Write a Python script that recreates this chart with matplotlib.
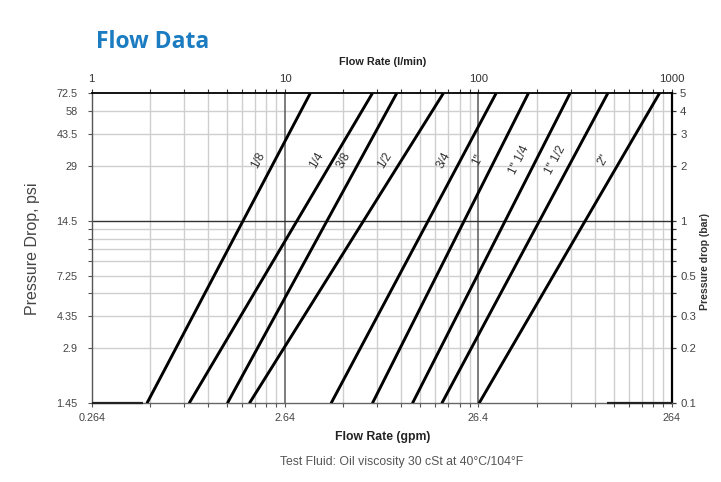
import matplotlib
matplotlib.use('Agg')
import matplotlib.pyplot as plt
from matplotlib import font_manager
from matplotlib.ticker import FixedLocator, FixedFormatter, NullFormatter
import numpy as np

# ---------------- data ----------------
sizes = ['1/8', '1/4', '3/8', '1/2', '3/4', '1"', '1" 1/4', '1" 1/2', '2"']
flow_at_min_dp = [1.93, 3.19, 5.03, 6.54, 17.3, 28.3, 45.6, 64.7, 100.8]   # l/min at 0.1 bar
flow_at_max_dp = [13.5, 28.3, 37.8, 65.9, 123.5, 181.4, 298, 467, 864]     # l/min at 5 bar
dp_range_bar = [0.1, 5]

lmin_ticks = [1, 10, 100, 1000]
lmin_labels = ['1', '10', '100', '1000']
gpm_labels = ['0.264', '2.64', '26.4', '264']
lmin_grid = [2, 3, 4, 5, 6, 7, 8, 9, 20, 30, 40, 50, 60, 70, 80, 90,
             200, 300, 400, 500, 600, 700, 800, 900]
lmin_dark_grid = [10, 100]

bar_ticks = [0.1, 0.2, 0.3, 0.5, 1, 2, 3, 4, 5]
bar_labels = ['0.1', '0.2', '0.3', '0.5', '1', '2', '3', '4', '5']
psi_labels = ['1.45', '2.9', '4.35', '7.25', '14.5', '29', '43.5', '58', '72.5']
bar_minor = [0.4, 0.6, 0.7, 0.8, 0.9]
bar_grid = [0.2, 0.3, 0.4, 0.5, 0.6, 0.7, 0.8, 0.9, 2, 3, 4]
bar_dark_grid = [1]

bottom_dark_spans = [(1, 1.85), (462, 1000)]   # l/min
label_dp_bar = 2.15

# ---------------- fonts ----------------
available = {f.name for f in font_manager.fontManager.ttflist}
arial = 'Liberation Sans' if 'Liberation Sans' in available else 'DejaVu Sans'
narrow = 'Liberation Sans Narrow' if 'Liberation Sans Narrow' in available else arial
title_font = 'Open Sans' if 'Open Sans' in available else arial
plt.rcParams['font.family'] = [arial, 'DejaVu Sans']

fig = plt.figure(figsize=(7.21, 4.82), dpi=100)
ax = fig.add_axes([91.7 / 721, 1 - 403.3 / 482, (671.7 - 91.7) / 721, (403.3 - 93.3) / 482])
ax.set_xscale('log')
ax.set_yscale('log')
ax.set_xlim(1, 1000)
ax.set_ylim(0.1, 5)

light = '#cfcfcf'
for v in lmin_grid:
    ax.axvline(v, color=light, lw=1.0, zorder=1)
for v in lmin_dark_grid:
    ax.axvline(v, color='#5a5a5a', lw=1.1, zorder=1.5)
for v in bar_grid:
    ax.axhline(v, color=light, lw=1.0, zorder=1)
for v in bar_dark_grid:
    ax.axhline(v, color='#333333', lw=1.0, zorder=1.5)

# flow lines
for name, q0, q1 in zip(sizes, flow_at_min_dp, flow_at_max_dp):
    ax.plot([q0, q1], dp_range_bar, color='black', lw=2.1, solid_capstyle='butt',
            zorder=3, clip_on=True)

for a, b in bottom_dark_spans:
    ax.plot([a, b], [0.1, 0.1], color='#222222', lw=1.6, zorder=4, clip_on=False,
            solid_capstyle='butt')

# line labels
fig.canvas.draw()
for name, q0, q1 in zip(sizes, flow_at_min_dp, flow_at_max_dp):
    p0 = ax.transData.transform((q0, dp_range_bar[0]))
    p1 = ax.transData.transform((q1, dp_range_bar[1]))
    ang = np.degrees(np.arctan2(p1[1] - p0[1], p1[0] - p0[0]))
    t = (np.log10(label_dp_bar) - np.log10(dp_range_bar[0])) / (np.log10(dp_range_bar[1]) - np.log10(dp_range_bar[0]))
    qx = 10 ** (np.log10(q0) + t * (np.log10(q1) - np.log10(q0)))
    ax.annotate(name, (qx, label_dp_bar), xytext=(-12, 0), textcoords='offset points',
                rotation=ang, ha='center', va='center', fontsize=8.6, color='#333333',
                rotation_mode='anchor', zorder=5)

# spines
ax.spines['top'].set_color('black')
ax.spines['top'].set_linewidth(1.3)
ax.spines['right'].set_color('black')
ax.spines['right'].set_linewidth(1.6)
ax.spines['left'].set_color('#555555')
ax.spines['left'].set_linewidth(1.0)
ax.spines['bottom'].set_color('#666666')
ax.spines['bottom'].set_linewidth(1.0)

tick_col = '#444444'
# bottom axis: gpm
ax.xaxis.set_major_locator(FixedLocator(lmin_ticks))
ax.xaxis.set_major_formatter(FixedFormatter(gpm_labels))
ax.xaxis.set_minor_locator(FixedLocator(lmin_grid))
ax.xaxis.set_minor_formatter(NullFormatter())
ax.tick_params(axis='x', which='both', direction='out', length=3, width=0.8,
               color='#555555', labelsize=7.8, labelcolor=tick_col, pad=4)
# left axis: psi
ax.yaxis.set_major_locator(FixedLocator(bar_ticks))
ax.yaxis.set_major_formatter(FixedFormatter(psi_labels))
ax.yaxis.set_minor_locator(FixedLocator(bar_minor))
ax.yaxis.set_minor_formatter(NullFormatter())
ax.tick_params(axis='y', which='both', direction='out', length=3, width=0.8,
               color='#555555', labelsize=7.8, labelcolor=tick_col, pad=7)

# top axis: l/min
secx = ax.secondary_xaxis('top')
secx.xaxis.set_major_locator(FixedLocator(lmin_ticks))
secx.xaxis.set_major_formatter(FixedFormatter(lmin_labels))
secx.xaxis.set_minor_locator(FixedLocator(lmin_grid))
secx.xaxis.set_minor_formatter(NullFormatter())
secx.tick_params(axis='x', which='both', direction='out', length=3, width=0.8,
                 color='#333333', labelsize=8.2, labelcolor='#333333', pad=4)
secx.spines['top'].set_visible(False)

# right axis: bar
secy = ax.secondary_yaxis('right')
secy.yaxis.set_major_locator(FixedLocator(bar_ticks))
secy.yaxis.set_major_formatter(FixedFormatter(bar_labels))
secy.yaxis.set_minor_locator(FixedLocator(bar_minor))
secy.yaxis.set_minor_formatter(NullFormatter())
secy.tick_params(axis='y', which='both', direction='out', length=3, width=0.9,
                 color='#333333', labelsize=8.2, labelcolor='#444444', pad=3)
secy.spines['right'].set_visible(False)

# titles and axis labels
fig.text(96 / 721, 1 - 42 / 482, 'Flow Data', fontsize=16.5, fontweight='bold',
         color='#1b7cc1', family=[title_font, 'DejaVu Sans'], ha='left', va='center')
fig.text(383 / 721, 1 - 62 / 482, 'Flow Rate (l/min)', fontsize=7.8, fontweight='bold',
         color='#222222', ha='center', va='center')
fig.text(383 / 721, 1 - 437 / 482, 'Flow Rate (gpm)', fontsize=8.8, fontweight='bold',
         color='#222222', ha='center', va='center')
fig.text(402 / 721, 1 - 462 / 482, 'Test Fluid: Oil viscosity 30 cSt at 40°C/104°F',
         fontsize=8.8, color='#555555', family=[narrow, 'DejaVu Sans'], ha='center', va='center')
fig.text(33 / 721, 1 - 249 / 482, 'Pressure Drop, psi', fontsize=11.5, color='#444444',
         rotation=90, ha='center', va='center')
fig.text(705 / 721, 1 - 262 / 482, 'Pressure drop (bar)', fontsize=7.6, fontweight='bold',
         color='#333333', rotation=90, ha='center', va='center')

fig.savefig('out.png', dpi=100)
